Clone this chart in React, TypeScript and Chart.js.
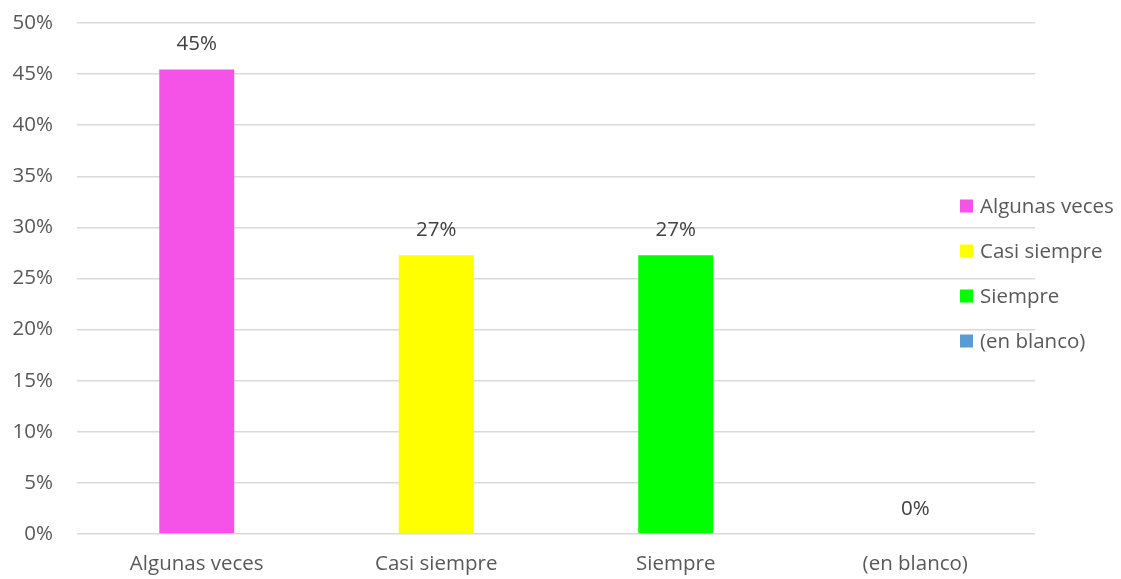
import React, { useEffect, useRef } from "react";
import { Chart, registerables } from "chart.js";

Chart.register(...registerables);

// Response categories and their share of answers (percent)
const categories = ["Algunas veces", "Casi siempre", "Siempre", "(en blanco)"];
const shares = [45.45, 27.27, 27.27, 0];
const barColors = ["#F552E8", "#FFFF00", "#00FF00", "#5B9BD5"];

const FONT = "'Open Sans', 'DejaVu Sans', sans-serif";
const TEXT_COLOR = "#595959";
const LABEL_COLOR = "#404040";
const GRID_COLOR = "#D9D9D9";
const FONT_SIZE = 20.5;

// Percentage label above each bar
const valueLabels = {
  id: "valueLabels",
  afterDatasetsDraw(chart: any) {
    const ctx = chart.ctx;
    const meta = chart.getDatasetMeta(0);
    const values = chart.data.datasets[0].data as number[];
    ctx.save();
    ctx.font = `${FONT_SIZE}px ${FONT}`;
    ctx.fillStyle = LABEL_COLOR;
    ctx.textAlign = "center";
    ctx.textBaseline = "middle";
    meta.data.forEach((bar: any, i: number) => {
      ctx.fillText(`${Math.round(values[i])}%`, bar.x, bar.y - 25);
    });
    ctx.restore();
  },
};

// Vertical legend on the right, one entry per category
const sideLegend = {
  id: "sideLegend",
  afterDraw(chart: any) {
    const ctx = chart.ctx;
    const area = chart.chartArea;
    const labels = chart.data.labels as string[];
    const colors = chart.data.datasets[0].backgroundColor as string[];
    const boxX = area.right - 75;
    const firstY = area.top + 183;
    const rowGap = 45;
    const box = 13;
    ctx.save();
    ctx.font = `${FONT_SIZE}px ${FONT}`;
    ctx.textAlign = "left";
    ctx.textBaseline = "middle";
    labels.forEach((label, i) => {
      const cy = firstY + i * rowGap;
      ctx.fillStyle = colors[i];
      ctx.fillRect(boxX, cy - box / 2, box, box);
      ctx.fillStyle = TEXT_COLOR;
      ctx.fillText(label, boxX + 20, cy + 1);
    });
    ctx.restore();
  },
};

export default function App() {
  const canvasRef = useRef<HTMLCanvasElement | null>(null);

  useEffect(() => {
    if (!canvasRef.current) return;
    const chart = new Chart(canvasRef.current, {
      type: "bar",
      data: {
        labels: categories,
        datasets: [
          {
            data: shares,
            backgroundColor: barColors,
            borderWidth: 0,
            barPercentage: 0.313,
            categoryPercentage: 1,
          },
        ],
      },
      options: {
        responsive: true,
        maintainAspectRatio: false,
        animation: false,
        layout: { padding: { top: 23, right: 86, left: 0, bottom: 0 } },
        plugins: {
          legend: { display: false },
          tooltip: { enabled: false },
        },
        scales: {
          x: {
            grid: { display: false, drawTicks: false },
            border: { display: false },
            ticks: {
              color: TEXT_COLOR,
              font: { family: FONT, size: FONT_SIZE },
              padding: 18,
              maxRotation: 0,
            },
            afterFit(scale: any) {
              scale.height = 45;
            },
          },
          y: {
            min: 0,
            max: 50,
            grid: { color: GRID_COLOR, lineWidth: 1.5, drawTicks: false },
            border: { display: false },
            ticks: {
              stepSize: 5,
              color: TEXT_COLOR,
              font: { family: FONT, size: FONT_SIZE },
              padding: 24,
              callback: (v: any) => `${v}%`,
            },
            afterFit(scale: any) {
              scale.width = 77;
              scale.paddingTop = 0;
              scale.paddingBottom = 0;
            },
          },
        },
      },
      plugins: [valueLabels, sideLegend],
    });
    return () => chart.destroy();
  }, []);

  return (
    <div style={{ position: "fixed", left: 0, top: 0, width: 1121, height: 579, background: "#fff" }}>
      <canvas ref={canvasRef} />
    </div>
  );
}
